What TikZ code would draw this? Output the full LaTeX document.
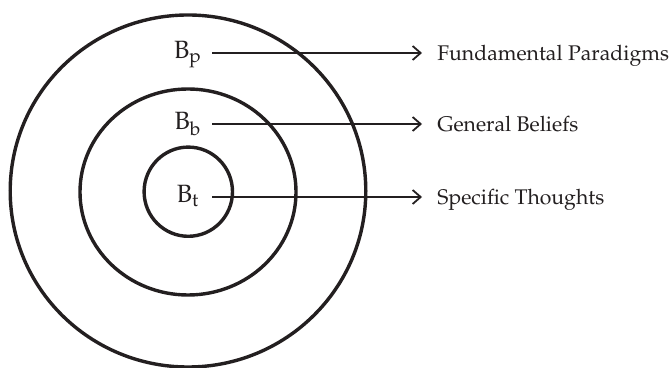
\documentclass[tikz,border=0pt]{standalone}
\usepackage[T1]{fontenc}
\usepackage{mathpazo}
\usepackage{xcolor}
\usepackage{tikz}
\usetikzlibrary{positioning,arrows.meta,shapes.geometric}

\definecolor{ink}{RGB}{35,31,32}

\begin{document}
\begin{tikzpicture}[
  x=0.5pt, y=-0.5pt,
  >={Straight Barb[length=4pt,width=7pt]},
  ring/.style={draw=ink, line width=1.7pt, ellipse, inner sep=0pt,
               minimum width=#1},
  arr/.style={->, draw=ink, line width=0.9pt},
  blab/.style={text=ink, inner sep=0pt, minimum width=24pt, align=center,
               font=\fontsize{12.5}{14}\selectfont,
               text height=8.6pt, text depth=2.6pt},
  txt/.style={text=ink, anchor=west, inner ysep=0pt, inner xsep=7.5pt,
              font=\fontsize{10.6}{13}\selectfont,
              text height=8pt, text depth=0pt},
]
\useasboundingbox (0,0) rectangle (669,368);

%% ===== RINGS =====
\node[ring=177.8pt, minimum height=176pt] (outer) at (188,191) {};
\node[ring=108pt, minimum height=103pt] (middle) at (188,192) {};
\node[ring=44.2pt, minimum height=44.6pt] (inner) at (188.3,191.7) {};

%% ===== LABELS =====
\node[blab] (bp) at (188,53) {B$_{\mathrm{p}}$};
\node[blab] (bb) at (188,124) {B$_{\mathrm{b}}$};
\node[blab] (bt) at (188,197) {B$_{\mathrm{t}}$};

\node[txt] (fp) at (422,53) {Fundamental Paradigms};
\node[txt] (gb) at (422,124) {General Beliefs};
\node[txt] (st) at (422,197) {Specific Thoughts};

%% ===== ARROWS =====
\draw[arr] (bp.east) -- (fp.west);
\draw[arr] (bb.east) -- (gb.west);
\draw[arr] (bt.east) -- (st.west);

\end{tikzpicture}
\end{document}
